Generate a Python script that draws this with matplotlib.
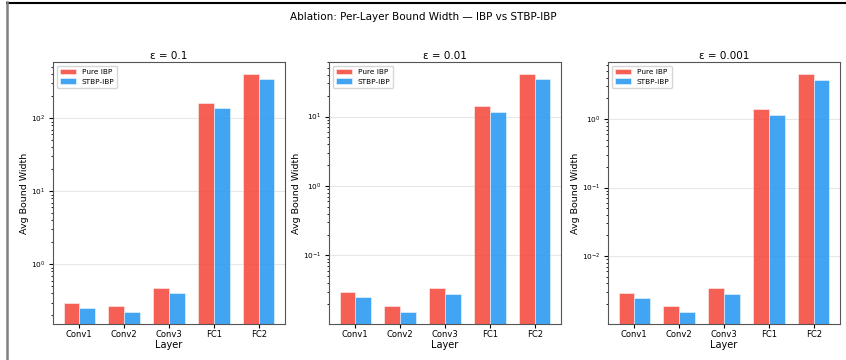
import numpy as np
import matplotlib
matplotlib.use("Agg")
import matplotlib.pyplot as plt
from matplotlib.lines import Line2D

layers = ["Conv1", "Conv2", "Conv3", "FC1", "FC2"]
eps_labels = ["ε = 0.1", "ε = 0.01", "ε = 0.001"]

pure_ibp_01 = [0.298, 0.268, 0.478, 160, 404]
stbp_ibp_01 = [0.250, 0.222, 0.400, 137, 342]
pure_ibp_001 = [0.0297, 0.0189, 0.0340, 14.1, 41.1]
stbp_ibp_001 = [0.0252, 0.0153, 0.0279, 11.6, 34.5]
pure_ibp_0001 = [0.00295, 0.00187, 0.00341, 1.38, 4.52]
stbp_ibp_0001 = [0.00247, 0.00153, 0.00279, 1.14, 3.73]

pure_all = [pure_ibp_01, pure_ibp_001, pure_ibp_0001]
stbp_all = [stbp_ibp_01, stbp_ibp_001, stbp_ibp_0001]

fig = plt.figure(figsize=(8.46, 3.6), dpi=100)
lefts = [53, 329, 608]
w = 232
top, bottom = 62, 324
H, W = 360, 846
x = np.arange(len(layers))
bw = 0.35
for i in range(3):
    ax = fig.add_axes([lefts[i] / W, 1 - bottom / H, w / W, (bottom - top) / H])
    ax.bar(x - bw / 2, pure_all[i], bw, label="Pure IBP", color="#F44336", alpha=0.85,
           edgecolor="white", linewidth=0.4)
    ax.bar(x + bw / 2, stbp_all[i], bw, label="STBP-IBP", color="#2196F3", alpha=0.85,
           edgecolor="white", linewidth=0.4)
    ax.set_yscale("log")
    ax.set_xticks(x)
    ax.set_xticklabels(layers, fontsize=6)
    ax.tick_params(axis="y", labelsize=5.3, length=3, pad=2.5)
    ax.tick_params(axis="y", which="minor", length=1.8)
    ax.tick_params(axis="x", length=3, pad=1.5)
    ax.set_xlabel("Layer", fontsize=7, labelpad=0.5)
    ax.set_ylabel("Avg Bound Width", fontsize=6.8, labelpad=1.5)
    ax.set_title(eps_labels[i], fontsize=7.5, pad=2.5)
    ax.grid(axis="y", alpha=0.3)
    ax.set_axisbelow(True)
    ax.legend(loc="upper left", fontsize=5.3, handlelength=2.2)
    for s in ax.spines.values():
        s.set_color("#555555")

fig.suptitle("Ablation: Per-Layer Bound Width — IBP vs STBP-IBP", fontsize=7.5, y=1 - 17 / H, va="center")
fig.add_artist(Line2D([7 / W, 1], [1 - 2.5 / H, 1 - 2.5 / H], color="black", lw=1.5))
fig.add_artist(Line2D([6.5 / W, 6.5 / W], [0, 1 - 2 / H], color="#808080", lw=1.8))
fig.savefig("out.png", dpi=100)
